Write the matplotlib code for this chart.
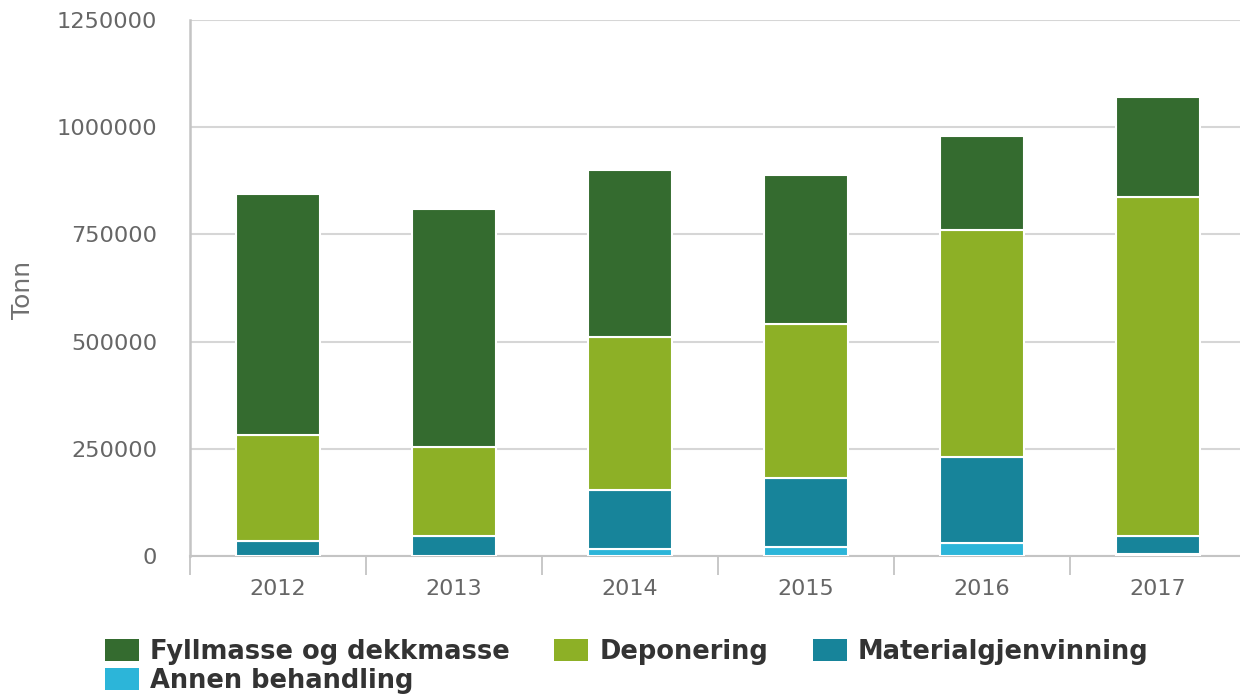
import matplotlib
matplotlib.use("Agg")
import matplotlib.pyplot as plt
import numpy as np

years = ["2012", "2013", "2014", "2015", "2016", "2017"]
annen = [0, 0, 16000, 21000, 31000, 5000]
material = [36000, 47000, 137000, 160000, 201000, 42000]
deponering = [247000, 207000, 357000, 359000, 529000, 790000]
fyllmasse = [562000, 556000, 390000, 348000, 219000, 233000]

series_names = ["Fyllmasse og dekkmasse", "Deponering", "Materialgjenvinning", "Annen behandling"]
colors = {"Fyllmasse og dekkmasse": "#346b2f",
          "Deponering": "#8db026",
          "Materialgjenvinning": "#17849a",
          "Annen behandling": "#2cb5d9"}
yticks = [0, 250000, 500000, 750000, 1000000, 1250000]

W, H = 1240, 697
fig = plt.figure(figsize=(W / 100, H / 100), dpi=100)
ax = fig.add_axes([190 / W, 1 - 556 / H, (1246 - 190) / W, (556 - 20) / H])

x = np.arange(len(years))
bw = 0.477
stack = [("Annen behandling", annen), ("Materialgjenvinning", material),
         ("Deponering", deponering), ("Fyllmasse og dekkmasse", fyllmasse)]
bottom = np.zeros(len(years))
handles = {}
for name, vals in stack:
    vals = np.array(vals, dtype=float)
    b = ax.bar(x, vals, bw, bottom=bottom, color=colors[name],
               edgecolor="white", linewidth=1.5, label=name, zorder=3)
    handles[name] = b
    bottom += vals

ax.set_xlim(-0.5, len(years) - 0.5)
ax.set_ylim(0, 1250000)
ax.set_yticks(yticks)
ax.set_yticklabels([str(v) for v in yticks])
ax.set_xticks(x)
ax.set_xticklabels(years)
ax.set_xticks(np.arange(-0.5, len(years) + 0.5, 1), minor=True)

ax.grid(axis="y", color="#d6d6d6", linewidth=1.5, zorder=0)
ax.set_axisbelow(True)
for s in ["top", "right"]:
    ax.spines[s].set_visible(False)
ax.spines["left"].set_color("#c4c4c4")
ax.spines["left"].set_linewidth(1.8)
ax.spines["bottom"].set_color("#c4c4c4")
ax.spines["bottom"].set_linewidth(1.5)

ax.tick_params(axis="y", length=0, pad=23.8, labelsize=16.2, labelcolor="#666666")
ax.tick_params(axis="x", which="major", length=0, pad=16.5, labelsize=16, labelcolor="#666666")
ax.tick_params(axis="x", which="minor", length=13.5, width=1.3, color="#c4c4c4")

fig.text(23 / W, 1 - 290 / H, "Tonn", rotation=90, ha="center", va="center",
         fontsize=18, color="#707070")

order = ["Fyllmasse og dekkmasse", "Annen behandling", "Deponering", "Materialgjenvinning"]
leg = fig.legend([handles[n] for n in order], order, loc="upper left",
                 bbox_to_anchor=(105 / W, 1 - 639 / H), ncol=3, frameon=False,
                 borderpad=0, borderaxespad=0, handlelength=1.32, handleheight=0.93,
                 handletextpad=0.42, columnspacing=1.75, labelspacing=0.1,
                 prop={"size": 18.5, "weight": "bold"})
for t in leg.get_texts():
    t.set_color("#333333")
for p in leg.legend_handles:
    p.set_edgecolor("none")

fig.savefig("out.png", dpi=100)
